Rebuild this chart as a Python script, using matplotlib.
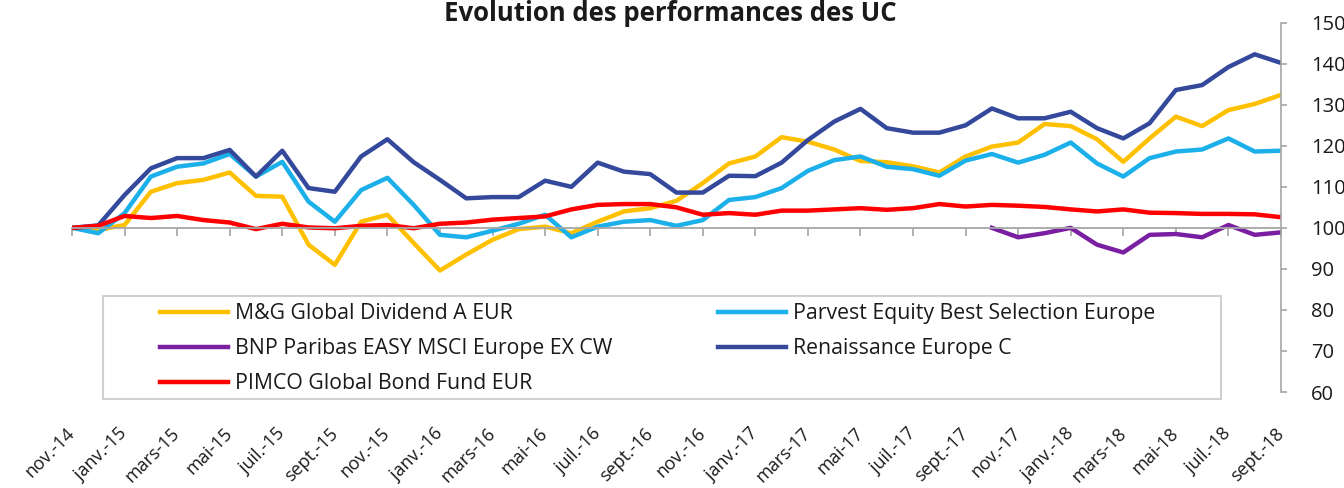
import numpy as np
import matplotlib
matplotlib.use("Agg")
import matplotlib.pyplot as plt
from matplotlib.patches import Rectangle

plt.rcParams['font.family'] = ['Open Sans', 'DejaVu Sans']

# tick labels (every 2 months, nov.-14 .. sept.-18)
tick_labels = ["nov.-14", "janv.-15", "mars-15", "mai-15", "juil.-15", "sept.-15",
               "nov.-15", "janv.-16", "mars-16", "mai-16", "juil.-16", "sept.-16",
               "nov.-16", "janv.-17", "mars-17", "mai-17", "juil.-17", "sept.-17",
               "nov.-17", "janv.-18", "mars-18", "mai-18", "juil.-18", "sept.-18"]

# monthly values, base 100
mg = [100, 99.5, 100.7, 108.8, 110.9, 111.7, 113.5, 107.8, 107.6, 95.9, 91.0, 101.5,
      103.2, 96.3, 89.6, 93.5, 97.1, 99.7, 100.3, 98.7, 101.5, 104.0, 104.8, 106.6,
      110.9, 115.7, 117.4, 122.1, 121.0, 119.1, 116.3, 116.0, 115.0, 113.5, 117.4, 119.8,
      120.8, 125.3, 124.8, 121.6, 116.1, 121.8, 127.1, 124.8, 128.7, 130.2, 132.4]
parvest = [100, 98.7, 103.6, 112.5, 114.9, 115.7, 118.0, 112.5, 116.1, 106.4, 101.5, 109.2,
           112.2, 105.6, 98.3, 97.7, 99.3, 101.0, 103.2, 97.7, 100.3, 101.5, 101.9, 100.5,
           101.9, 106.8, 107.5, 109.7, 113.9, 116.5, 117.4, 114.9, 114.3, 112.7, 116.4, 118.0,
           115.9, 117.8, 120.8, 115.7, 112.5, 117.0, 118.6, 119.1, 121.8, 118.6, 118.8]
bnp = [np.nan] * 35 + [100, 97.7, 98.7, 100.0, 95.9, 94.0, 98.3, 98.5, 97.7, 100.7, 98.3, 98.9]
renaissance = [100, 100.6, 108.0, 114.5, 117.0, 117.0, 119.0, 112.5, 118.8, 109.7, 108.8, 117.4,
               121.6, 116.0, 111.7, 107.2, 107.5, 107.5, 111.5, 110.0, 115.9, 113.7, 113.1, 108.6,
               108.6, 112.7, 112.6, 115.9, 121.4, 125.9, 129.0, 124.3, 123.2, 123.2, 125.0, 129.1,
               126.7, 126.7, 128.3, 124.3, 121.8, 125.5, 133.6, 134.8, 139.2, 142.3, 140.2]
pimco = [100, 100.5, 102.9, 102.4, 102.9, 101.9, 101.3, 99.7, 101.0, 100.1, 99.9, 100.5,
         100.7, 99.9, 101.0, 101.3, 102.0, 102.4, 102.8, 104.5, 105.6, 105.8, 105.8, 105.0,
         103.2, 103.6, 103.2, 104.2, 104.2, 104.5, 104.8, 104.4, 104.8, 105.8, 105.2, 105.6,
         105.4, 105.1, 104.5, 104.0, 104.5, 103.7, 103.6, 103.4, 103.4, 103.3, 102.6]

x = np.arange(len(mg))

fig = plt.figure(figsize=(13.44, 4.88), dpi=100)
W, H = 1344, 488
ax = fig.add_axes([72 / W, 1 - 392 / H, (1281 - 72) / W, (392 - 22.7) / H])

lw = 3.2
l_mg, = ax.plot(x, mg, color="#FFC000", lw=lw, label="M&G Global Dividend A EUR")
l_pa, = ax.plot(x, parvest, color="#1CB0EA", lw=lw, label="Parvest Equity Best Selection Europe")
l_bnp, = ax.plot(x, bnp, color="#7A1FA2", lw=lw, label="BNP Paribas EASY MSCI Europe EX CW")
l_re, = ax.plot(x, renaissance, color="#34499C", lw=lw, label="Renaissance Europe C")
l_pi, = ax.plot(x, pimco, color="#FF0000", lw=lw, label="PIMCO Global Bond Fund EUR")

ax.set_xlim(0, len(mg) - 1)
ax.set_ylim(60, 150)

gray = "#A6A6A6"
# category axis crosses at 100
ax.spines['bottom'].set_position(('data', 100))
ax.spines['bottom'].set_color(gray)
ax.spines['bottom'].set_linewidth(1.3)
ax.spines['top'].set_visible(False)
ax.spines['left'].set_visible(False)
ax.spines['right'].set_color(gray)
ax.spines['right'].set_linewidth(1.2)
ax.set_xticks(x[::2])
ax.tick_params(axis='x', direction='out', length=6, width=1.2, color=gray, labelbottom=False)

# labels at the bottom
sec = ax.secondary_xaxis('bottom')
sec.set_xticks(x[::2], tick_labels)
sec.spines['bottom'].set_visible(False)
sec.tick_params(axis='x', length=0, pad=28, labelsize=13)
for t in sec.get_xticklabels():
    t.set_rotation(45)
    t.set_rotation_mode('anchor')
    t.set_ha('right')
    t.set_va('center')
    t.set_color("#1a1a1a")

ax.yaxis.tick_right()
ax.set_yticks(np.arange(60, 151, 10))
ax.tick_params(axis='y', direction='out', length=4.5, width=1.2, color=gray, labelsize=14.5,
               pad=17, labelcolor="#1a1a1a")

fig.text(670 / W, 1 - 21 / H, "Evolution des performances des UC", ha='center', va='baseline',
         fontsize=18.5, fontweight='bold', color="#1a1a1a")

# legend box
fig.patches.append(Rectangle((103 / W, 1 - 399 / H), (1221 - 103) / W, (399 - 296) / H,
                             transform=fig.transFigure, facecolor='white', edgecolor='#D0D0D0',
                             lw=1.5, zorder=3))

fs = 15.3
leg1 = fig.legend(handles=[l_mg, l_bnp, l_pi], loc='upper left',
                  bbox_to_anchor=(160 / W, 1 - 303 / H), frameon=False, fontsize=fs,
                  handlelength=3.2, handletextpad=0.33, labelspacing=0.66, borderpad=0,
                  borderaxespad=0)
leg2 = fig.legend(handles=[l_pa, l_re], loc='upper left',
                  bbox_to_anchor=(718 / W, 1 - 303 / H), frameon=False, fontsize=fs,
                  handlelength=3.2, handletextpad=0.33, labelspacing=0.66, borderpad=0,
                  borderaxespad=0)
for lg in (leg1, leg2):
    lg.set_zorder(4)
    for t in lg.get_texts():
        t.set_color("#1a1a1a")

fig.savefig("out.png", dpi=100)
